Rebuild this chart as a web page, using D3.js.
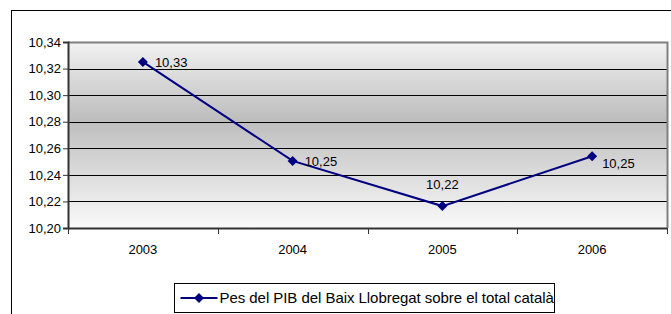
<!DOCTYPE html>
<html>
<head>
<meta charset="utf-8">
<script src="https://cdn.jsdelivr.net/npm/d3@7"></script>
<style>
  body { margin: 0; background: #fff; }
  svg { display: block; font-family: "Liberation Sans", Arial, sans-serif; }
</style>
</head>
<body>
<script>
const years = ["2003", "2004", "2005", "2006"];
const values = [10.325, 10.2505, 10.2165, 10.254];
const labels = ["10,33", "10,25", "10,22", "10,25"];
const yTicks = [10.20, 10.22, 10.24, 10.26, 10.28, 10.30, 10.32, 10.34];
const seriesName = "Pes del PIB del Baix Llobregat sobre el total català";

const width = 671, height = 314;
const plot = { left: 68, right: 667, top: 42, bottom: 228 };

const svg = d3.select("body").append("svg")
    .attr("width", width)
    .attr("height", height);

// outer chart frame
svg.append("rect")
    .attr("x", 11.5).attr("y", 10.5)
    .attr("width", 680).attr("height", 320)
    .attr("fill", "#fff")
    .attr("stroke", "#000");

const defs = svg.append("defs");
const grad = defs.append("linearGradient")
    .attr("id", "bg").attr("x1", 0).attr("y1", 0).attr("x2", 0).attr("y2", 1);
grad.append("stop").attr("offset", "0%").attr("stop-color", "#f2f2f2");
grad.append("stop").attr("offset", "42%").attr("stop-color", "#bdbdbd");
grad.append("stop").attr("offset", "100%").attr("stop-color", "#fafafa");

const x = d3.scaleBand().domain(years).range([plot.left, plot.right]);
const y = d3.scaleLinear().domain([10.20, 10.34]).range([plot.bottom, plot.top]);

svg.append("rect")
    .attr("x", plot.left).attr("y", plot.top)
    .attr("width", plot.right - plot.left).attr("height", plot.bottom - plot.top)
    .attr("fill", "url(#bg)");

// gridlines
svg.append("g")
    .selectAll("line")
    .data(yTicks.slice(1, -1))
    .join("line")
    .attr("x1", plot.left).attr("x2", plot.right)
    .attr("y1", d => Math.round(y(d)) + 0.5).attr("y2", d => Math.round(y(d)) + 0.5)
    .attr("stroke", "#000");

// plot border top / right (gray)
svg.append("path")
    .attr("d", `M${plot.left},${plot.top + 0.5}H${plot.right + 0.5}V${plot.bottom}`)
    .attr("fill", "none")
    .attr("stroke", "#808080")
    .attr("stroke-width", 2);

// y axis
const yAxis = d3.axisLeft(y)
    .tickValues(yTicks)
    .tickSize(5)
    .tickFormat(d => d3.format(".2f")(d).replace(".", ","));
svg.append("g")
    .attr("transform", `translate(${plot.left},0)`)
    .call(yAxis)
    .call(g => g.select(".domain").attr("stroke", "#333").attr("stroke-width", 2))
    .call(g => g.selectAll(".tick line").attr("stroke", "#333"))
    .call(g => g.selectAll("text")
        .attr("font-size", 13).attr("fill", "#000")
        .attr("letter-spacing", 0).attr("x", -7));

// x axis
const boundaries = years.map(d => x(d)).concat([plot.right]);
const xg = svg.append("g");
xg.append("line")
    .attr("x1", plot.left).attr("x2", plot.right)
    .attr("y1", plot.bottom + 0.5).attr("y2", plot.bottom + 0.5)
    .attr("stroke", "#333").attr("stroke-width", 2);
xg.selectAll(".tk")
    .data(boundaries)
    .join("line")
    .attr("x1", d => Math.round(d) + 0.5).attr("x2", d => Math.round(d) + 0.5)
    .attr("y1", plot.bottom).attr("y2", plot.bottom + 6)
    .attr("stroke", "#333");
xg.selectAll("text")
    .data(years)
    .join("text")
    .attr("x", d => x(d) + x.bandwidth() / 2)
    .attr("y", 254)
    .attr("text-anchor", "middle")
    .attr("font-size", 13)
    .text(d => d);

// line
const cx = (d, i) => x(years[i]) + x.bandwidth() / 2;
const line = d3.line().x(cx).y(d => y(d));
svg.append("path")
    .datum(values)
    .attr("d", line)
    .attr("fill", "none")
    .attr("stroke", "#000080")
    .attr("stroke-width", 2);

const diamond = d3.symbol().type(d3.symbolDiamond2).size(64);
svg.selectAll(".pt")
    .data(values)
    .join("path")
    .attr("transform", (d, i) => `translate(${cx(d, i)},${y(d)})`)
    .attr("d", diamond)
    .attr("fill", "#000080");

// data labels (Excel placed the 2005 label above and the 2006 one a bit lower)
svg.selectAll(".lbl")
    .data(values)
    .join("text")
    .attr("x", (d, i) => i === 2 ? cx(d, i) : cx(d, i) + (i === 3 ? 10 : 12))
    .attr("y", (d, i) => i === 2 ? y(d) - 17 : y(d) + (i === 3 ? 12 : 5))
    .attr("text-anchor", (d, i) => i === 2 ? "middle" : "start")
    .attr("font-size", 13)
    .text((d, i) => labels[i]);

// legend
const lg = svg.append("g").attr("transform", "translate(174.5,283.5)");
lg.append("rect")
    .attr("width", 380).attr("height", 29)
    .attr("fill", "#fff").attr("stroke", "#000");
lg.append("line")
    .attr("x1", 6).attr("x2", 43).attr("y1", 14.5).attr("y2", 14.5)
    .attr("stroke", "#000080").attr("stroke-width", 2);
lg.append("path")
    .attr("transform", "translate(24.5,14.5)")
    .attr("d", diamond)
    .attr("fill", "#000080");
lg.append("text")
    .attr("x", 45).attr("y", 19.5)
    .attr("font-size", 15)
    .attr("letter-spacing", -0.05)
    .text(seriesName);
</script>
</body>
</html>
